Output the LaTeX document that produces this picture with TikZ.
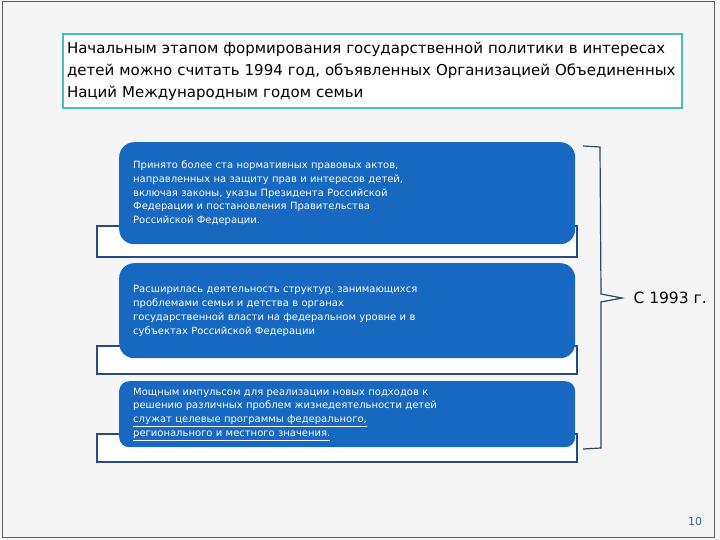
\documentclass[tikz,border=0pt]{standalone}
\usepackage{fontspec}
\setmainfont{DejaVu Sans}
\usetikzlibrary{positioning}
\definecolor{slidebg}{RGB}{245,245,245}
\definecolor{frameline}{RGB}{90,90,90}
\definecolor{tealline}{RGB}{70,190,190}
\definecolor{boxblue}{RGB}{22,104,192}
\definecolor{darkblue}{RGB}{35,75,135}
\definecolor{bracketline}{RGB}{45,70,105}
\definecolor{pagenum}{RGB}{40,100,160}
\tikzstyle{titlebox}=[draw=tealline, line width=2pt, fill=white, anchor=north west, inner xsep=4pt, align=left, text width=611pt, minimum width=619pt, minimum height=74pt, font=\fontsize{15}{22}\selectfont]
\tikzstyle{backbox}=[draw=darkblue, line width=1.8pt, fill=white, anchor=north west, minimum width=480pt]
\tikzstyle{bluebox}=[fill=boxblue, text=white, anchor=north west, inner xsep=14pt, align=left, text width=428pt, minimum width=456pt, font=\fontsize{10}{13.8}\selectfont]

\begin{document}
\begin{tikzpicture}[x=1pt, y=-1pt]
        \useasboundingbox (0,0) rectangle (720,540);
        \fill[slidebg] (0,0) rectangle (720,540);
        \draw[frameline, line width=1pt] (2,2) rectangle (714,537);
        \node[titlebox] (title) at (62,33) {Начальным этапом формирования государственной политики в интересах\\детей можно считать 1994 год, объявленных Организацией Объединенных\\Наций Международным годом семьи};
        \node[backbox, minimum height=31pt] (back1) at (96,225) {};
        \node[backbox, minimum height=28pt] (back2) at (96,345) {};
        \node[backbox, minimum height=28pt] (back3) at (96,433) {};
        \node[bluebox, rounded corners=15pt, minimum height=102pt] (box1) at (119,142) {Принято более ста нормативных правовых актов,\\направленных на защиту прав и интересов детей,\\включая законы, указы Президента Российской\\Федерации и постановления Правительства\\Российской Федерации.};
        \node[bluebox, rounded corners=15pt, minimum height=95pt] (box2) at (119,263) {Расширилась деятельность структур, занимающихся\\проблемами семьи и детства в органах\\государственной власти на федеральном уровне и в\\субъектах Российской Федерации};
        \node[bluebox, rounded corners=10pt, minimum height=66pt] (box3) at (119,381) {Мощным импульсом для реализации новых подходов к\\решению различных проблем жизнедеятельности детей\\\underline{служат целевые программы федерального,}\\\underline{регионального и местного значения.}};
        \coordinate (brtop) at (583,146);
        \coordinate (brbot) at (583,449);
        \coordinate (brtip) at (622,298);
        \draw[bracketline, line width=1.2pt] (brtop) -- (600,147) -- (601,294) -- (brtip) -- (601,302) -- (601,448) -- (brbot);
        \node[font=\fontsize{15.5}{18}\selectfont, anchor=west] (since) at (630,298) {С 1993 г.};
        \node[font=\fontsize{11}{12}\selectfont, text=pagenum] (page) at (695,521) {10};
    \end{tikzpicture}
\end{document}
